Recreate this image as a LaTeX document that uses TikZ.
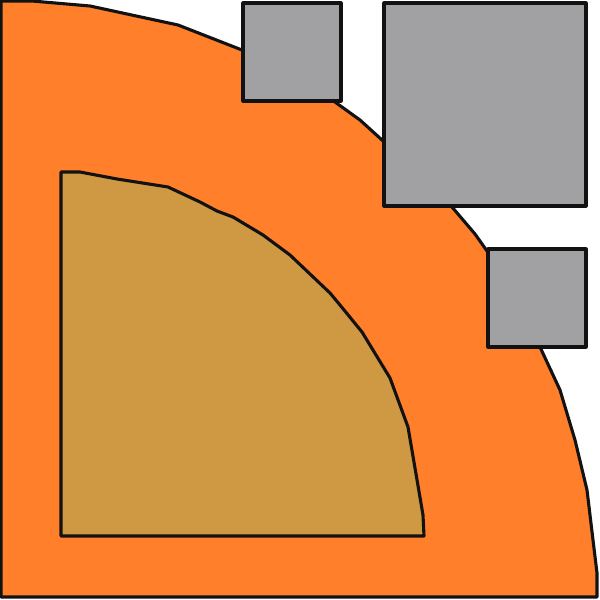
\documentclass[tikz,border=0pt]{standalone}
\usepackage{tikz}
\definecolor{naranja}{RGB}{255,127,42}
\definecolor{ocre}{RGB}{206,153,66}
\definecolor{gris}{RGB}{161,161,163}
\tikzset{
    borde/.style={draw=black!93, line width=3.1pt, line join=round},
    caja/.style={borde, fill=gris}
}
\begin{document}
\begin{tikzpicture}[x=1pt, y=-1pt]
    \useasboundingbox (0,0) rectangle (600,600);

    % Zona exterior
    \draw[borde, fill=naranja] (1,1) -- (32,1) -- (90,6) -- (178,25) -- (242,50)
        -- (300,80) -- (335,102) -- (360,120) -- (382,140) -- (420,175)
        -- (452,207) -- (475,234) -- (487,251) -- (515,300) -- (540,347)
        -- (560,390) -- (575,440) -- (587,490) -- (593,540) -- (597,573)
        -- (597,597) -- (1,597) -- cycle;

    % Zona interior
    \draw[borde, fill=ocre] (61,172) -- (80,172) -- (117,179) -- (168,187)
        -- (200,202) -- (217,211) -- (233,217) -- (263,235) -- (290,255)
        -- (330,293) -- (340,305) -- (362,332) -- (390,378) -- (408,427)
        -- (423,515) -- (424,536) -- (61,536) -- cycle;

    % Cajas
    \draw[caja] (243,3) rectangle (341,101);
    \draw[caja] (384,3) rectangle (586,206);
    \draw[caja] (488,249) rectangle (586,347);
\end{tikzpicture}
\end{document}
